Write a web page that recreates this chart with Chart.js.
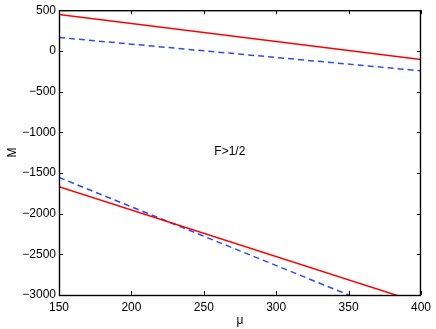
<!DOCTYPE html>
<html>
<head>
<meta charset="utf-8">
<script src="https://cdn.jsdelivr.net/npm/chart.js@4/dist/chart.umd.min.js"></script>
<style>
  html, body { margin: 0; padding: 0; background: #fff; }
  #wrap { width: 436px; height: 329px; }
</style>
</head>
<body>
<div id="wrap"><canvas id="chart" width="436" height="329"></canvas></div>
<script>
const mu = [150, 400];
const upperSolid = [447, -105];
const upperDashed = [165, -245];
const lowerSolid = [-1670, -3100];
const lowerDashed = [-1555, -3360];
const xTicks = [150, 200, 250, 300, 350, 400];
const yTicks = [-3000, -2500, -2000, -1500, -1000, -500, 0, 500];
const annotation = { text: 'F>1/2', x: 268, y: -1235 };

const FONT = 'Liberation Sans, Arial, Helvetica, sans-serif';

function toPoints(ys) {
  return mu.map((x, i) => ({ x: x, y: ys[i] }));
}

function lineSet(ys, color, dashed) {
  return {
    data: toPoints(ys),
    showLine: true,
    borderColor: color,
    backgroundColor: color,
    borderWidth: 1.5,
    borderDash: dashed ? [6, 4] : [],
    pointRadius: 0,
    fill: false
  };
}

// box round the plot, inward ticks on all four sides, axis labels and note
const frame = {
  id: 'frame',
  afterDatasetsDraw(chart) {
    const { ctx, chartArea: a, scales } = chart;
    ctx.save();
    ctx.strokeStyle = '#000';
    ctx.lineWidth = 1.4;
    ctx.strokeRect(a.left + 0.5, a.top + 0.5, a.right - a.left - 1, a.bottom - a.top);
    ctx.lineWidth = 1;
    ctx.beginPath();
    xTicks.forEach(v => {
      const px = Math.round(scales.x.getPixelForValue(v)) + 0.5;
      ctx.moveTo(px, a.bottom); ctx.lineTo(px, a.bottom - 4);
      ctx.moveTo(px, a.top); ctx.lineTo(px, a.top + 4);
    });
    yTicks.forEach(v => {
      const py = Math.round(scales.y.getPixelForValue(v)) + 0.5;
      ctx.moveTo(a.left, py); ctx.lineTo(a.left + 4, py);
      ctx.moveTo(a.right, py); ctx.lineTo(a.right - 4, py);
    });
    ctx.stroke();

    ctx.fillStyle = '#000';
    ctx.font = '12px ' + FONT;
    ctx.textAlign = 'center';
    ctx.textBaseline = 'middle';
    ctx.fillText(annotation.text, scales.x.getPixelForValue(annotation.x), scales.y.getPixelForValue(annotation.y));
    ctx.fillText('\u03bc', (a.left + a.right) / 2, 321);
    ctx.translate(13, (a.top + a.bottom) / 2);
    ctx.rotate(-Math.PI / 2);
    ctx.fillText('M', 0, 0);
    ctx.restore();
  }
};

new Chart(document.getElementById('chart'), {
  type: 'scatter',
  data: {
    datasets: [
      lineSet(upperSolid, '#ff0000', false),
      lineSet(upperDashed, '#2a4cff', true),
      lineSet(lowerSolid, '#ff0000', false),
      lineSet(lowerDashed, '#2a4cff', true)
    ]
  },
  options: {
    responsive: false,
    animation: false,
    layout: { padding: { left: 0, top: 10, right: 14, bottom: 0 } },
    plugins: { legend: { display: false }, tooltip: { enabled: false } },
    scales: {
      x: {
        type: 'linear',
        min: 150,
        max: 400,
        afterBuildTicks: s => { s.ticks = xTicks.map(v => ({ value: v })); },
        afterFit: s => { s.height = 34; },
        grid: { display: false, drawTicks: false },
        border: { display: false },
        ticks: { color: '#000', padding: 5, maxRotation: 0, font: { family: FONT, size: 12 } }
      },
      y: {
        type: 'linear',
        min: -3000,
        max: 500,
        afterBuildTicks: s => { s.ticks = yTicks.map(v => ({ value: v })); },
        afterFit: s => { s.width = 59; },
        grid: { display: false, drawTicks: false },
        border: { display: false },
        ticks: {
          color: '#000', padding: 3, font: { family: FONT, size: 12 },
          callback: v => String(v).replace('-', '\u2212')
        }
      }
    }
  },
  plugins: [frame]
});
</script>
</body>
</html>
